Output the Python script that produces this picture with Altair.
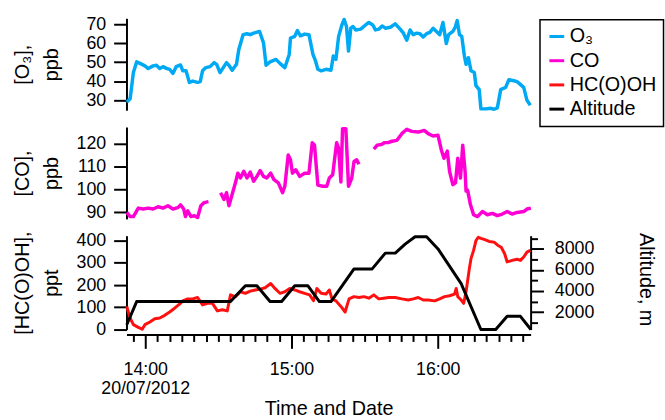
import altair as alt
import pandas as pd

FONT = "Liberation Sans"

# ---- data (minutes relative to 14:00 on 20/07/2012) ----
o3_min = [-7.58, -6.20, -4.86, -3.53, -2.15, -0.12, 1.22, 3.24, 4.58, 5.96, 7.30, 8.64, 10.01, 11.35,
          12.69, 14.47, 15.41, 16.74, 18.12, 19.46, 21.49, 22.58, 23.51, 24.85, 26.63, 28.26, 29.31,
          30.69, 32.03, 33.36, 34.34, 35.68, 37.42, 38.39, 40.14, 41.76, 43.09, 44.47, 46.90, 48.53,
          49.58, 51.20, 53.64, 55.26, 57.28, 59.07, 59.59, 61.34, 62.43, 63.65, 65.39, 67.17, 68.80,
          69.85, 70.82, 72.16, 74.19, 76.21, 77.15, 78.24, 79.34, 80.67, 81.61, 82.58, 83.39, 84.32,
          85.25, 86.35, 88.38, 90.40, 91.74, 93.36, 94.46, 95.80, 97.18, 98.51, 100.54, 102.57,
          104.59, 105.93, 107.31, 108.65, 109.98, 111.36, 112.70, 114.04, 115.42, 116.75, 118.09,
          119.47, 120.81, 122.15, 123.52, 124.46, 126.20, 127.17, 127.99, 128.92, 129.85, 130.94,
          131.63, 132.57, 133.66, 135.00, 135.69, 137.03, 137.71, 139.74, 141.77, 143.11, 144.45,
          145.82, 147.85, 149.19, 151.22, 152.55, 155.27, 156.61, 157.99]
o3_val = [29.1, 30.8, 44.6, 50.2, 49.4, 48.1, 46.7, 48.1, 48.4, 46.7, 47.7, 46.8, 46.3, 44.1,
          47.7, 48.6, 45.5, 45.5, 39.4, 40.1, 39.4, 39.8, 45.5, 47.2, 47.7, 49.8, 48.9,
          44.6, 47.2, 49.8, 48.4, 45.8, 48.9, 56.7, 64.5, 65.0, 64.5, 65.3, 66.2, 60.2,
          48.4, 50.2, 51.5, 49.4, 47.2, 54.1, 62.7, 63.6, 66.7, 63.9, 64.8, 64.5, 54.1,
          50.7, 46.3, 45.5, 46.3, 45.8, 53.3, 51.5, 63.6, 69.6, 72.5, 68.8, 55.9, 67.9,
          68.8, 67.0, 67.4, 69.6, 70.9, 69.6, 67.0, 67.4, 69.1, 67.9, 68.4, 70.2,
          67.4, 65.3, 61.6, 67.0, 64.5, 65.3, 65.0, 63.3, 65.0, 65.7, 67.9,
          66.2, 64.5, 70.9, 59.8, 64.5, 66.2, 68.4, 71.9, 64.5, 63.6, 53.3,
          48.9, 52.4, 45.5, 44.6, 37.7, 35.6, 25.5, 25.5, 25.8, 25.3, 26.0,
          35.6, 36.8, 40.8, 40.3, 39.8, 36.8, 30.0, 27.4]

# None marks a gap in the CO record
co_min = [-7.58, -6.20, -4.86, -2.84, -0.81, 1.22, 3.24, 5.27, 7.30, 9.32, 11.35, 13.38, 14.47, 15.81,
          16.50, 17.43, 18.77, 20.15, 21.49, 22.82, 24.20, 25.94, None,
          30.93, 32.31, 33.36, 34.34, 35.68, 37.01, 37.99, 39.04, 40.42, 41.76, 43.09, 44.47, 45.81,
          47.15, 48.53, 49.86, 51.48, 52.82, 54.61, 56.35, 57.28, 58.66, 59.59, 60.40, 61.74, 63.36,
          65.39, 67.17, 68.51, 69.44, 70.82, 72.85, 74.47, 75.53, 76.90, 78.52, 79.34, 80.27, 80.96,
          82.30, 83.39, 84.73, 85.66, 86.76, 87.69, None,
          93.77, 95.15, 96.89, 98.23, 99.61, 101.23, 103.26, 105.28, 107.31, 109.34, 112.01, 114.45,
          116.07, 118.09, 120.12, 121.50, 122.55, 123.93, 124.86, 126.20, 127.29, 128.22, 129.32,
          130.25, 131.22, 131.63, 132.28, 133.37, 134.71, 136.33, 138.36, 140.38, 142.41, 144.44,
          146.47, 148.49, 150.52, 152.55, 155.27, 156.61, 158.23]
co_val = [90.0, 88.2, 88.2, 91.9, 91.5, 91.9, 91.5, 92.5, 91.9, 92.9, 91.5, 92.1, 93.3, 91.5,
          88.2, 90.7, 88.2, 88.6, 87.8, 92.9, 94.3, 94.7, None,
          98.6, 95.7, 98.6, 92.9, 97.9, 102.9, 107.1, 105.0, 107.9, 105.0, 107.6, 103.6, 105.7,
          108.2, 105.7, 105.0, 107.1, 104.3, 102.9, 98.6, 101.4, 115.0, 112.9, 107.1, 108.6, 105.7,
          107.1, 107.1, 120.4, 119.3, 101.9, 101.4, 101.4, 105.0, 106.4, 120.4, 117.9, 103.3, 126.5,
          126.5, 101.4, 105.0, 112.2, 112.9, 111.0, None,
          117.6, 119.3, 119.6, 120.4, 120.4, 121.0, 121.4, 124.3, 126.2, 125.3, 125.0, 125.7,
          124.3, 123.3, 123.6, 117.1, 113.6, 116.7, 107.9, 102.1, 102.9, 113.6, 105.0,
          119.3, 107.9, 99.3, 99.6, 93.6, 89.0, 88.2, 90.4, 89.0, 89.6, 88.6,
          89.3, 90.4, 89.3, 90.0, 90.4, 91.5, 91.9]

hc_min = [-7.58, -6.20, -4.86, -2.84, -1.22, -0.12, 1.91, 3.93, 5.96, 7.99, 10.01, 12.04, 14.07, 15.41,
          17.43, 19.46, 21.49, 23.51, 25.54, 27.57, 29.59, 31.62, 33.65, 34.99, 37.01, 39.04, 41.07,
          43.09, 45.12, 47.15, 49.18, 51.48, 53.23, 55.26, 57.28, 59.31, 61.34, 63.36, 65.39, 67.42,
          69.04, 70.42, 72.16, 74.19, 75.53, 76.62, 78.24, 80.27, 82.01, 83.63, 85.66, 87.69, 89.72,
          91.74, 93.77, 95.80, 97.82, 99.85, 102.57, 105.28, 107.96, 109.98, 112.01, 114.04, 116.07,
          118.78, 120.81, 122.83, 124.86, 126.89, 127.58, 128.22, 129.60, 130.65, 131.63, 132.97,
          133.66, 134.71, 135.69, 136.62, 137.71, 139.33, 141.07, 143.11, 144.73, 146.07, 147.45,
          148.49, 150.52, 152.55, 153.93, 155.27, 156.61, 157.99]
hc_val = [104, 52, 22, 10, 2, 22, 34, 49, 52, 64, 79, 96, 114, 129,
          138, 138, 144, 111, 118, 118, 84, 89, 84, 156, 148, 170, 163,
          173, 178, 182, 188, 207, 185, 163, 170, 185, 178, 170, 163, 156,
          130, 185, 163, 160, 178, 138, 129, 104, 79, 138, 148, 144, 148,
          141, 156, 138, 141, 144, 144, 138, 133, 138, 144, 133, 133,
          129, 138, 148, 152, 159, 185, 148, 133, 118, 170, 274,
          319, 356, 400, 415, 410, 404, 396, 393, 378, 370, 341,
          304, 311, 316, 311, 326, 348, 356]

alt_min = [-7.58, -3.53, 34.99, 41.07, 45.81, 51.20, 55.96, 61.34, 66.76, 71.46, 76.21, 85.66, 93.10,
           98.51, 102.57, 106.62, 110.70, 115.42, 120.12, 129.60, 137.71, 143.79, 148.49, 153.93, 158.23]
alt_val = [800, 3000, 3000, 4500, 4500, 3000, 3000, 4500, 4500, 3000, 3000, 6100, 6100,
           7600, 7600, 8450, 9150, 9150, 8000, 4700, 350, 350, 1600, 1600, 350]

series_names = ["O\u2083", "CO", "HC(O)OH", "Altitude"]
series_colors = ["#00A9F4", "#FF00D4", "#FF1010", "#000000"]

BASE = pd.Timestamp("2012-07-20 14:00:00")


def to_time(mins):
    return [(BASE + pd.Timedelta(minutes=m)).strftime("%Y-%m-%dT%H:%M:%S") for m in mins]


def frame(mins, vals, name):
    rows = []
    seg = 0
    for m, v in zip(mins, vals):
        if m is None:
            seg += 1
            continue
        rows.append({"t": to_time([m])[0], "v": v, "series": name, "seg": seg})
    return pd.DataFrame(rows)


o3_df = frame(o3_min, o3_val, series_names[0])
co_df = frame(co_min, co_val, series_names[1])
hc_df = frame(hc_min, hc_val, series_names[2])
alt_df = frame(alt_min, alt_val, series_names[3])

W = 409

x_dom = [alt.DateTime(year=2012, month=7, date=20, hours=13, minutes=52, seconds=18),
         alt.DateTime(year=2012, month=7, date=20, hours=16, minutes=38, seconds=6)]
x_scale = alt.Scale(domain=x_dom, nice=False)

tick_vals = []
for h in (13, 14, 15, 16):
    for mm in range(0, 60, 5):
        tot = h * 60 + mm
        if 13 * 60 + 55 <= tot <= 16 * 60 + 35:
            tick_vals.append(alt.DateTime(year=2012, month=7, date=20, hours=h, minutes=mm))

legend = alt.Legend(title=None, orient="none", legendX=418.5, legendY=1.4,
                    symbolType="stroke", symbolStrokeWidth=3, symbolSize=225,
                    labelFontSize=20, labelFont=FONT, strokeColor="black",
                    fillColor="white", padding=7, rowPadding=4.5, labelOffset=3)

color = alt.Color("series:N", scale=alt.Scale(domain=series_names, range=series_colors),
                  legend=legend)

common_axis = dict(grid=False, domainColor="black", tickColor="black", domainWidth=2,
                   tickWidth=2, labelFontSize=18, titleFontSize=20, labelColor="black",
                   titleColor="black", labelFont=FONT, titleFont=FONT, titleFontWeight="normal",
                   tickCount=200)


def left_axis(values, title, h):
    return alt.Axis(values=values, format="d", title=title, tickSize=13, labelPadding=8,
                    titleAngle=270, titleAlign="center", titleBaseline="alphabetic",
                    titleX=-99, titleY=h / 2, titleLineHeight=29, **common_axis)


top = alt.Chart(o3_df).mark_line(strokeWidth=3.5, strokeJoin="round").encode(
    x=alt.X("t:T", scale=x_scale, axis=None),
    y=alt.Y("v:Q", scale=alt.Scale(domain=[24.8, 73.1], nice=False, zero=False),
            axis=left_axis([30, 40, 50, 60, 70], ["[O\u2083],", "ppb"], 93)),
    color=color,
    detail="seg:N",
).properties(width=W, height=93)

mid = alt.Chart(co_df).mark_line(strokeWidth=3.5, strokeJoin="round").encode(
    x=alt.X("t:T", scale=x_scale, axis=None),
    y=alt.Y("v:Q", scale=alt.Scale(domain=[87.2, 127.2], nice=False, zero=False),
            axis=left_axis([90, 100, 110, 120], ["[CO],", "ppb"], 93)),
    color=color,
    detail="seg:N",
).properties(width=W, height=93)

x_axis = alt.Axis(values=tick_vals, offset=5, title="Time and Date",
                  labelExpr="minutes(datum.value) == 0 ? (hours(datum.value) == 14 ? ['14:00', '20/07/2012'] : timeFormat(datum.value, '%H:%M')) : ''",
                  tickSize={"condition": {"test": "minutes(datum.value) == 0", "value": 14}, "value": 7},
                  labelLineHeight=20, labelPadding=12, labelBaseline="top",
                  titleY=81, titleBaseline="alphabetic", labelFlush=False, labelOverlap=False,
                  **common_axis)

red = alt.Chart(hc_df).mark_line(strokeWidth=3, strokeJoin="round").encode(
    x=alt.X("t:T", scale=x_scale, axis=x_axis),
    y=alt.Y("v:Q", scale=alt.Scale(domain=[0, 422], nice=False, zero=False),
            axis=left_axis([0, 100, 200, 300, 400], ["[HC(O)OH],", "ppt"], 95)),
    color=color,
)

black = alt.Chart(alt_df).mark_line(strokeWidth=3, strokeJoin="round").encode(
    x=alt.X("t:T", scale=x_scale),
    y=alt.Y("v:Q", scale=alt.Scale(domain=[341, 9253], nice=False, zero=False),
            axis=alt.Axis(orient="right", values=list(range(1000, 10000, 1000)), format="d",
                          labelExpr="datum.value % 2000 == 0 ? datum.label : ''",
                          tickSize={"condition": {"test": "datum.value % 2000 == 0", "value": 13}, "value": 7},
                          labelPadding=11, title="Altitude, m", titleAngle=90, titleAlign="center",
                          titleBaseline="alphabetic", titleX=110.5, titleY=44, **common_axis)),
    color=color,
)

bottom = alt.layer(red, black).resolve_scale(y="independent").properties(width=W, height=95)

chart = alt.vconcat(top, mid, bottom, spacing=17, bounds="flush").properties(
    padding={"left": 13, "top": 12, "right": 0, "bottom": 0},
    background="white",
).configure_view(stroke=None).configure_legend(strokeWidth=1.5)

chart.save("out.html", embed_options={"renderer": "svg", "actions": False})
